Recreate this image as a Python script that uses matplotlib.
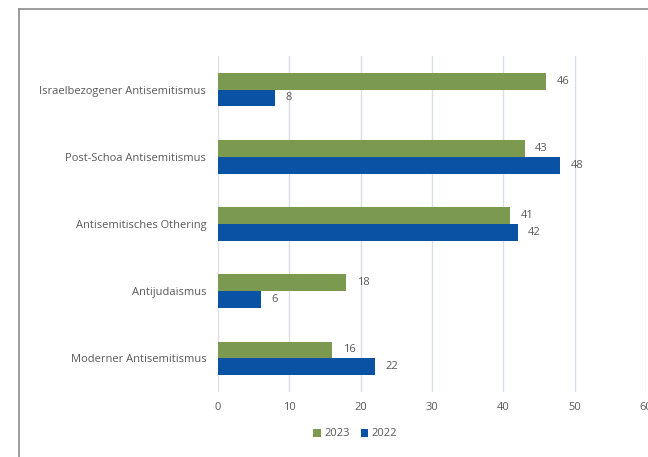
import matplotlib
matplotlib.use("Agg")
import matplotlib.pyplot as plt
from matplotlib.lines import Line2D
from matplotlib.patches import Patch
import numpy as np

categories = ["Israelbezogener Antisemitismus", "Post-Schoa Antisemitismus",
              "Antisemitisches Othering", "Antijudaismus", "Moderner Antisemitismus"]
values_2023 = [46, 43, 41, 18, 16]
values_2022 = [8, 48, 42, 6, 22]
series_names = ["2023", "2022"]
xticks = [0, 10, 20, 30, 40, 50, 60]

green = "#7B9A50"
blue = "#0A52A3"
grey_text = "#595959"
grid_col = "#D9DEE8"
fs = 8

plt.rcParams['font.family'] = ['Open Sans', 'DejaVu Sans']

fig = plt.figure(figsize=(6.48, 4.57), dpi=100)
ax = fig.add_axes([218/648, 1-392/457, (646-218)/648, (392-56)/457])

n = len(categories)
y = np.arange(n)
h = 0.25
ax.barh(y - h/2, values_2023, height=h, color=green, label=series_names[0], zorder=3)
ax.barh(y + h/2, values_2022, height=h, color=blue, label=series_names[1], zorder=3)

for yi, v in zip(y, values_2023):
    ax.annotate(str(v), (v, yi - h/2), xytext=(7.5, 0), textcoords="offset points",
                va="center", ha="left", fontsize=fs, color=grey_text)
for yi, v in zip(y, values_2022):
    ax.annotate(str(v), (v, yi + h/2), xytext=(7.5, 0), textcoords="offset points",
                va="center", ha="left", fontsize=fs, color=grey_text)

ax.set_ylim(n - 0.5, -0.5)
ax.set_xlim(0, 60)
ax.set_xticks(xticks)
ax.set_yticks(y)
ax.set_yticklabels(categories)
ax.tick_params(axis="both", length=0, labelsize=fs, colors=grey_text)
ax.tick_params(axis="y", pad=8.5)
ax.tick_params(axis="x", pad=7)
ax.grid(axis="x", color=grid_col, linewidth=1, zorder=0)
for s in ax.spines.values():
    s.set_visible(False)

handles = [Patch(facecolor=green), Patch(facecolor=blue)]
fig.legend(handles, series_names, loc="center", bbox_to_anchor=(355/648, 1-434/457),
           ncol=2, frameon=False, fontsize=fs, handlelength=0.7, handleheight=0.7,
           handletextpad=0.3, columnspacing=1.0, labelcolor=grey_text)

# outer frame
fig.add_artist(Line2D([19/648, 19/648], [0, 1-9/457], color="#8C8C8C", lw=1.2, transform=fig.transFigure))
fig.add_artist(Line2D([19/648, 1], [1-9/457, 1-9/457], color="#8C8C8C", lw=1.2, transform=fig.transFigure))

fig.savefig("out.png", dpi=100)
